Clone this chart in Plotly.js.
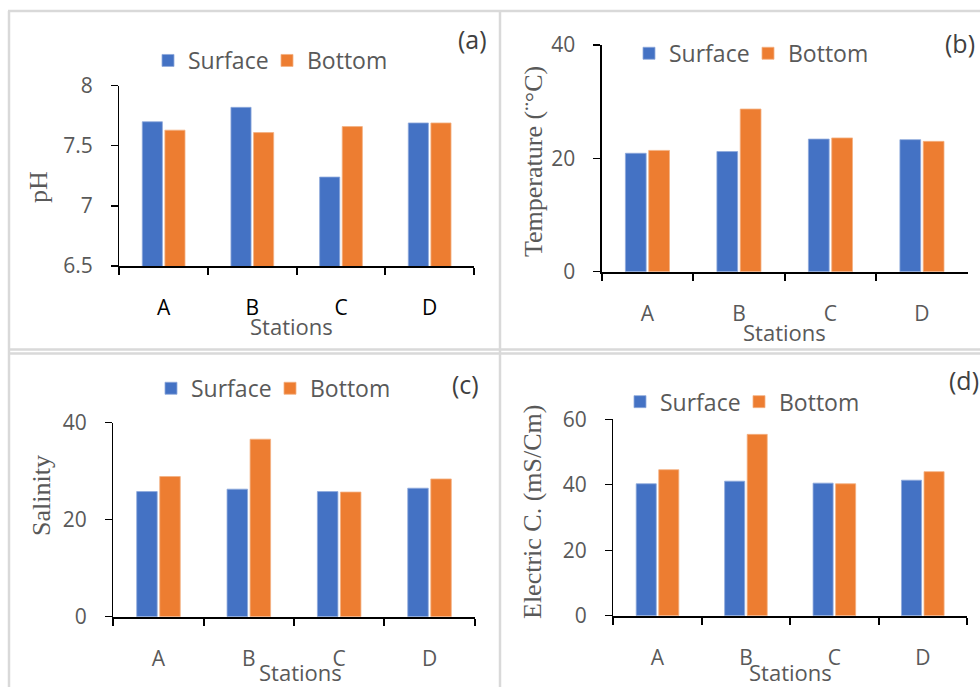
<!DOCTYPE html>
<html>
<head>
<meta charset="utf-8">
<script src="https://cdn.plot.ly/plotly-3.0.1.min.js"></script>
<style>html,body{margin:0;padding:0;background:#fff;}#chart{width:980px;height:687px;}</style>
</head>
<body>
<div id="chart"></div>
<script>
// ---- data ----
const stations = ["A", "B", "C", "D"];
const seriesNames = ["Surface", "Bottom"];
const phSurface = [7.70, 7.82, 7.24, 7.69];
const phBottom = [7.63, 7.61, 7.66, 7.69];
const tempSurface = [20.9, 21.2, 23.4, 23.3];
const tempBottom = [21.4, 28.7, 23.6, 23.0];
const salSurface = [25.8, 26.3, 25.8, 26.5];
const salBottom = [28.9, 36.6, 25.7, 28.4];
const ecSurface = [40.3, 41.1, 40.5, 41.4];
const ecBottom = [44.6, 55.4, 40.3, 44.0];
const yTitles = ["pH", "Temperature (¨°C)", "Salinity", "Electric C. (mS/Cm)"];
const panelLabels = ["(a)", "(b)", "(c)", "(d)"];
const xTitle = "Stations";

// ---- layout helpers ----
const W = 980, H = 687;
const px = v => v / W;
const py = v => 1 - v / H;
const BLUE = "#4472C4", ORANGE = "#ED7D31", GRAY = "#595959";
const SANS = "Open Sans, Segoe UI, sans-serif";
const SERIF = "Liberation Serif, Times New Roman, serif";

const panels = [
  {s: phSurface, b: phBottom, x0: 119.3, x1: 474, yb: 266, yt: 85.7, range: [6.5, 8], dtick: 0.5, catColor: "#000",
   leg: [148, 60.5], lab: [472, 39], yt_pos: [38, 187], xt_pos: [291, 326]},
  {s: tempSurface, b: tempBottom, x0: 601.7, x1: 967.7, yb: 271.7, yt: 45, range: [0, 40], dtick: 20, catColor: GRAY,
   leg: [629, 53.3], lab: [960, 43], yt_pos: [533, 162], xt_pos: [784, 332]},
  {s: salSurface, b: salBottom, x0: 113.3, x1: 474.7, yb: 616.7, yt: 422.7, range: [0, 40], dtick: 20, catColor: GRAY,
   leg: [151, 388.3], lab: [465.5, 384], yt_pos: [41, 496], xt_pos: [300, 672]},
  {s: ecSurface, b: ecBottom, x0: 613.3, x1: 967, yb: 615.7, yt: 419.3, range: [0, 60], dtick: 20, catColor: GRAY,
   leg: [620, 401.7], lab: [964, 380], yt_pos: [532, 512], xt_pos: [790, 672]}
];

const data = [];
const layout = {
  width: W, height: H,
  margin: {l: 0, r: 0, t: 0, b: 0},
  paper_bgcolor: "#fff", plot_bgcolor: "rgba(0,0,0,0)",
  barmode: "group", bargap: 0.49, bargroupgap: 0.11,
  showlegend: true,
  annotations: [], shapes: []
};

panels.forEach((p, i) => {
  const n = i === 0 ? "" : String(i + 1);
  const legName = "legend" + n;
  data.push({
    type: "bar", x: stations, y: p.s, name: seriesNames[0],
    xaxis: "x" + n, yaxis: "y" + n, legend: legName,
    marker: {color: BLUE, line: {color: "#8FAADC", width: 0.8}},
    hoverinfo: "skip"
  });
  data.push({
    type: "bar", x: stations, y: p.b, name: seriesNames[1],
    xaxis: "x" + n, yaxis: "y" + n, legend: legName,
    marker: {color: ORANGE, line: {color: "#F4B183", width: 0.8}},
    hoverinfo: "skip"
  });
  layout["xaxis" + n] = {
    domain: [px(p.x0), px(p.x1)], anchor: "y" + n,
    type: "category", range: [-0.5, 3.5],
    showline: true, linecolor: "#000", linewidth: 2,
    ticks: "outside", tickson: "boundaries", ticklen: 7, tickwidth: 2, tickcolor: "#000",
    ticklabelstandoff: 22,
    tickfont: {family: SANS, size: 21, color: p.catColor},
    showgrid: false, zeroline: false, fixedrange: true
  };
  layout["yaxis" + n] = {
    domain: [py(p.yb), py(p.yt)], anchor: "x" + n,
    range: p.range, dtick: p.dtick, tick0: 0,
    showline: true, linecolor: "#000", linewidth: 1.3,
    ticks: "outside", ticklen: 7, tickwidth: 1.3, tickcolor: "#000",
    ticklabelstandoff: 14,
    tickfont: {family: SANS, size: 21, color: GRAY},
    showgrid: false, zeroline: false, fixedrange: true
  };
  layout[legName] = {
    orientation: "h", x: px(p.leg[0]), y: py(p.leg[1]),
    xanchor: "left", yanchor: "middle",
    entrywidth: 74, entrywidthmode: "pixels",
    bgcolor: "rgba(0,0,0,0)", borderwidth: 0,
    font: {family: SANS, size: 23, color: GRAY},
    itemclick: false, itemdoubleclick: false
  };
  layout.annotations.push({
    xref: "paper", yref: "paper", x: px(p.lab[0]), y: py(p.lab[1]),
    xanchor: "center", yanchor: "middle", showarrow: false,
    text: panelLabels[i], font: {family: SANS, size: 25, color: "#404040"}
  });
  layout.annotations.push({
    xref: "paper", yref: "paper", x: px(p.yt_pos[0]), y: py(p.yt_pos[1]),
    xanchor: "center", yanchor: "middle", showarrow: false, textangle: -90,
    text: yTitles[i], font: {family: SERIF, size: 26, color: GRAY}
  });
  layout.annotations.push({
    xref: "paper", yref: "paper", x: px(p.xt_pos[0]), y: py(p.xt_pos[1]),
    xanchor: "center", yanchor: "middle", showarrow: false,
    text: xTitle, font: {family: SANS, size: 22, color: GRAY}
  });
});

// panel frames
const frame = {type: "line", xref: "paper", yref: "paper", line: {color: "#D9D9D9", width: 2.5}, layer: "below"};
layout.shapes.push(Object.assign({}, frame, {x0: px(8), x1: 1, y0: py(11), y1: py(11)}));
layout.shapes.push(Object.assign({}, frame, {x0: px(9), x1: px(9), y0: py(11), y1: 0}));
layout.shapes.push(Object.assign({}, frame, {x0: px(500), x1: px(500), y0: py(11), y1: 0}));
layout.shapes.push(Object.assign({}, frame, {x0: px(8), x1: 1, y0: py(349.5), y1: py(349.5)}));
layout.shapes.push(Object.assign({}, frame, {x0: px(8), x1: 1, y0: py(353.5), y1: py(353.5)}));

Plotly.newPlot("chart", data, layout, {staticPlot: true, displayModeBar: false});
</script>
</body>
</html>
